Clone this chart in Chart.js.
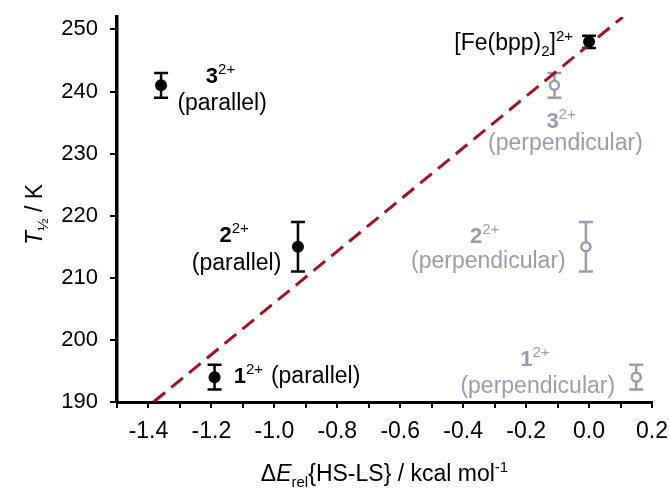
<!DOCTYPE html>
<html lang="en">
<head>
    <meta charset="UTF-8">
    <title>T1/2 vs dE</title>
    <script src="https://cdn.jsdelivr.net/npm/chart.js"></script>
    <style>
        body { margin: 0; background: white; }
    </style>
</head>
<body>
    <canvas id="c" width="669" height="490"></canvas>
    <script>
        // parallel conformers (black, filled)
        const parX = [-1.36, -0.925, -1.19];
        const parY = [241, 215, 194];
        const parErr = [2, 4, 2];
        // perpendicular conformers (grey, open)
        const perpX = [-0.11, -0.01, 0.15];
        const perpY = [241, 215, 194];
        const perpErr = [2, 4, 2];
        // [Fe(bpp)2]2+ reference
        const refX = [0.0];
        const refY = [248];
        const refErr = [1];
        // dashed correlation line end points
        const fitX = [-1.384, 0.107];
        const fitY = [190, 252];
        // y tick labels
        const yTicks = [190, 200, 210, 220, 230, 240, 250];

        const FONT = '"Liberation Sans", Arial, sans-serif';
        const BLACK = '#000000';
        const GREY = '#9a9ab2';
        const RED = '#a3121d';

        const fonts = {
            n: '23px ' + FONT,
            b: 'bold 22px ' + FONT,
            i: 'italic 23px ' + FONT,
            sup: '15px ' + FONT,
            sub: '15px ' + FONT
        };
        const shift = { n: 0, b: 0, i: 0, sup: -9, sub: 6 };

        // labels placed in data units
        const notes = [
            { x: -1.171, y: 241.4, parts: [['3', 'b'], ['2+', 'sup']], color: BLACK, align: 'center' },
            { x: -1.166, y: 237.0, parts: [['(parallel)', 'n']], color: BLACK, align: 'center' },
            { x: -1.128, y: 215.8, parts: [['2', 'b'], ['2+', 'sup']], color: BLACK, align: 'center' },
            { x: -1.120, y: 211.2, parts: [['(parallel)', 'n']], color: BLACK, align: 'center' },
            { x: -1.129, y: 193.0, parts: [['1', 'b'], ['2+', 'sup']], color: BLACK, align: 'left' },
            { x: -1.011, y: 193.0, parts: [['(parallel)', 'n']], color: BLACK, align: 'left' },
            { x: -0.051, y: 246.7, parts: [['[Fe(bpp)', 'n'], ['2', 'sub'], [']', 'n'], ['2+', 'sup']], color: BLACK, align: 'right' },
            { x: -0.089, y: 234.1, parts: [['3', 'b'], ['2+', 'sup']], color: GREY, align: 'center' },
            { x: -0.075, y: 230.6, parts: [['(perpendicular)', 'n']], color: GREY, align: 'center' },
            { x: -0.332, y: 215.6, parts: [['2', 'b'], ['2+', 'sup']], color: GREY, align: 'center' },
            { x: -0.320, y: 211.6, parts: [['(perpendicular)', 'n']], color: GREY, align: 'center' },
            { x: -0.172, y: 195.8, parts: [['1', 'b'], ['2+', 'sup']], color: GREY, align: 'center' },
            { x: -0.163, y: 191.4, parts: [['(perpendicular)', 'n']], color: GREY, align: 'center' }
        ];

        function drawRich(ctx, parts, x, y, align, color) {
            let w = 0;
            const widths = parts.map(p => {
                ctx.font = fonts[p[1]];
                const m = ctx.measureText(p[0]).width;
                w += m;
                return m;
            });
            let cx = x;
            if (align === 'center') cx = x - w / 2;
            if (align === 'right') cx = x - w;
            ctx.fillStyle = color;
            ctx.textAlign = 'left';
            ctx.textBaseline = 'alphabetic';
            parts.forEach((p, i) => {
                ctx.font = fonts[p[1]];
                ctx.fillText(p[0], cx, y + shift[p[1]]);
                cx += widths[i];
            });
        }

        function pts(xs, ys) {
            return xs.map((x, i) => ({ x: x, y: ys[i] }));
        }

        const errorBars = {
            id: 'errorBars',
            beforeDatasetsDraw(chart) {
                const ctx = chart.ctx;
                const xs = chart.scales.x, ys = chart.scales.y;
                chart.data.datasets.forEach(ds => {
                    if (!ds.errors) return;
                    ctx.save();
                    ctx.strokeStyle = ds.errColor;
                    ctx.lineWidth = 2.5;
                    ds.data.forEach((p, i) => {
                        const px = xs.getPixelForValue(p.x);
                        const top = ys.getPixelForValue(p.y + ds.errors[i]);
                        const bot = ys.getPixelForValue(p.y - ds.errors[i]);
                        ctx.beginPath();
                        ctx.moveTo(px, top); ctx.lineTo(px, bot);
                        ctx.moveTo(px - 7, top); ctx.lineTo(px + 7, top);
                        ctx.moveTo(px - 7, bot); ctx.lineTo(px + 7, bot);
                        ctx.stroke();
                    });
                    ctx.restore();
                });
            }
        };

        const texts = {
            id: 'texts',
            afterDraw(chart) {
                const ctx = chart.ctx;
                const xs = chart.scales.x, ys = chart.scales.y;
                ctx.save();
                notes.forEach(n => {
                    drawRich(ctx, n.parts, xs.getPixelForValue(n.x), ys.getPixelForValue(n.y), n.align, n.color);
                });
                // x axis title
                const area = chart.chartArea;
                drawRich(ctx, [['\u0394', 'n'], ['E', 'i'], ['rel', 'sub'], ['{HS-LS} / kcal mol', 'n'], ['-1', 'sup']],
                    (area.left + area.right) / 2, 481, 'center', BLACK);
                // y axis title
                ctx.translate(42, (area.top + area.bottom) / 2 + 5);
                ctx.rotate(-Math.PI / 2);
                drawRich(ctx, [['T', 'i'], ['\u00BD', 'sub'], [' / K', 'n']], 0, 0, 'center', BLACK);
                ctx.restore();
            }
        };

        new Chart(document.getElementById('c').getContext('2d'), {
            type: 'scatter',
            data: {
                datasets: [
                    {
                        data: pts(refX, refY), errors: refErr, errColor: BLACK,
                        pointRadius: 6, backgroundColor: BLACK, borderColor: BLACK, pointBorderWidth: 0
                    },
                    {
                        data: pts(parX, parY), errors: parErr, errColor: BLACK,
                        pointRadius: 6, backgroundColor: BLACK, borderColor: BLACK, pointBorderWidth: 0
                    },
                    {
                        data: pts(perpX, perpY), errors: perpErr, errColor: GREY,
                        pointRadius: 4.5, backgroundColor: '#ffffff', borderColor: GREY, pointBorderWidth: 2.5
                    },
                    {
                        data: pts(fitX, fitY), showLine: true, pointRadius: 0,
                        borderColor: RED, borderWidth: 3, borderDash: [15, 8]
                    }
                ]
            },
            options: {
                responsive: false,
                animation: false,
                devicePixelRatio: 1,
                layout: { padding: { top: 17, right: 17, left: 0, bottom: 0 } },
                plugins: {
                    legend: { display: false },
                    tooltip: { enabled: false }
                },
                scales: {
                    x: {
                        type: 'linear',
                        min: -1.5,
                        max: 0.2,
                        border: { display: true, color: BLACK, width: 3 },
                        grid: { drawOnChartArea: false, drawTicks: true, tickLength: 6, color: BLACK, lineWidth: 2 },
                        ticks: {
                            stepSize: 0.1,
                            autoSkip: false,
                            maxRotation: 0,
                            color: BLACK,
                            padding: 10,
                            font: { family: FONT, size: 23 },
                            callback: function(v) {
                                const k = Math.round(v * 10);
                                return k % 2 === 0 ? (k / 10).toFixed(1) : '';
                            }
                        },
                        afterFit: function(s) {
                            s.height = 88;
                            s.paddingLeft = 0;
                            s.paddingRight = 0;
                        }
                    },
                    y: {
                        type: 'linear',
                        min: 190,
                        max: 252,
                        border: { display: true, color: BLACK, width: 3.5 },
                        grid: { drawOnChartArea: false, drawTicks: true, tickLength: 7, color: BLACK, lineWidth: 2 },
                        ticks: {
                            color: BLACK,
                            padding: 12,
                            font: { family: FONT, size: 22 }
                        },
                        afterBuildTicks: function(s) {
                            s.ticks = yTicks.map(v => ({ value: v }));
                        },
                        afterFit: function(s) {
                            s.width = 117;
                            s.paddingTop = 0;
                            s.paddingBottom = 0;
                        }
                    }
                }
            },
            plugins: [errorBars, texts]
        });
    </script>
</body>
</html>
